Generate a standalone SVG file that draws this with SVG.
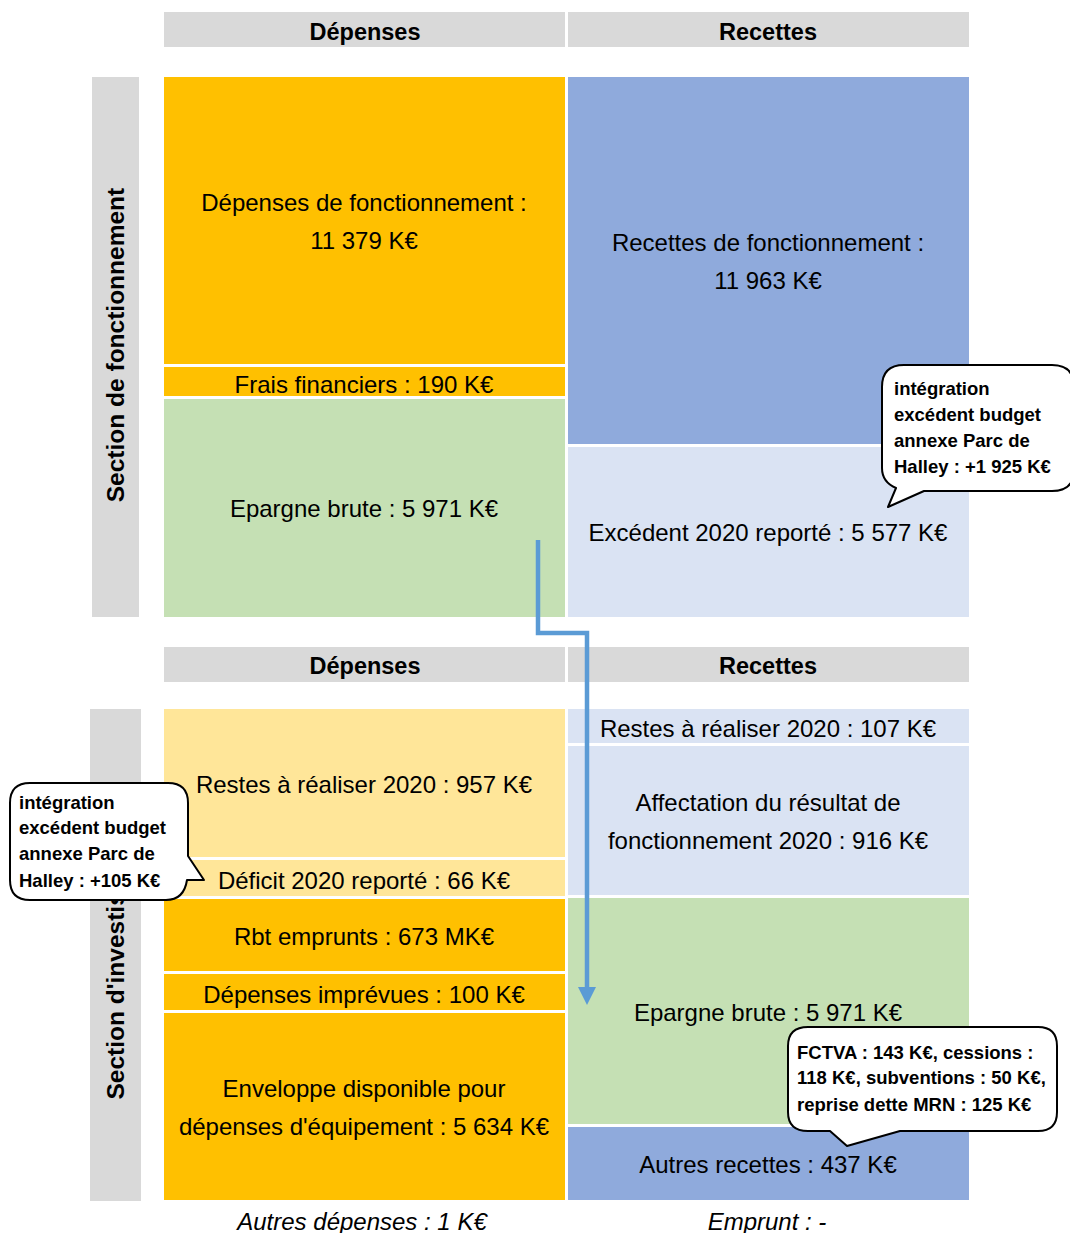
<svg xmlns="http://www.w3.org/2000/svg" width="1070" height="1233" viewBox="0 0 1070 1233">
<defs>
<style>
.t{font-family:"Liberation Sans",Arial,sans-serif;font-size:24px;fill:#000;text-anchor:middle}
.h{font-family:"Liberation Sans",Arial,sans-serif;font-size:23.5px;font-weight:bold;fill:#000;text-anchor:middle}
.s{font-family:"Liberation Sans",Arial,sans-serif;font-size:24.5px;font-weight:bold;fill:#000;text-anchor:middle}
.f{font-family:"Liberation Sans",Arial,sans-serif;font-size:24px;font-style:italic;fill:#000;text-anchor:middle}
.c{font-family:"Liberation Sans",Arial,sans-serif;font-size:18.5px;font-weight:bold;fill:#000}
.gray{fill:#D9D9D9}
.yel{fill:#FFC000}
.lyel{fill:#FFE699}
.grn{fill:#C5E0B4}
.blu{fill:#8FAADC}
.lblu{fill:#DAE3F3}
.call{fill:#fff;stroke:#000;stroke-width:2;stroke-linejoin:round}
</style>
<marker id="ah" markerWidth="4" markerHeight="4" refX="2" refY="2" orient="auto" markerUnits="strokeWidth" viewBox="0 0 4 4">
<path d="M0,0 L4,2 L0,4 z" fill="#5B9BD5"/>
</marker>
</defs>

<g id="headers-top">
<rect class="gray" x="164" y="12" width="401" height="35"/>
<text class="h" x="365" y="40">Dépenses</text>
<rect class="gray" x="568" y="12" width="401" height="35"/>
<text class="h" x="768" y="40">Recettes</text>
</g>

<g id="side-fonctionnement">
<rect class="gray" x="92" y="77" width="47" height="540"/>
<text class="s" transform="translate(124,345) rotate(-90)">Section de fonctionnement</text>
</g>

<g id="dep-fonct">
<rect class="yel" x="164" y="77" width="401" height="287"/>
<text class="t" x="364" y="211">Dépenses de fonctionnement :</text>
<text class="t" x="364" y="249">11 379 K€</text>
</g>
<g id="frais-fin">
<rect class="yel" x="164" y="367" width="401" height="29"/>
<text class="t" x="364" y="393">Frais financiers : 190 K€</text>
</g>
<g id="epargne-top">
<rect class="grn" x="164" y="399" width="401" height="218"/>
<text class="t" x="364" y="517">Epargne brute : 5 971 K€</text>
</g>
<g id="rec-fonct">
<rect class="blu" x="568" y="77" width="401" height="367"/>
<text class="t" x="768" y="251">Recettes de fonctionnement :</text>
<text class="t" x="768" y="289">11 963 K€</text>
</g>
<g id="excedent">
<rect class="lblu" x="568" y="447" width="401" height="170"/>
<text class="t" x="768" y="541">Excédent 2020 reporté : 5 577 K€</text>
</g>

<g id="headers-bottom">
<rect class="gray" x="164" y="647" width="401" height="35"/>
<text class="h" x="365" y="674">Dépenses</text>
<rect class="gray" x="568" y="647" width="401" height="35"/>
<text class="h" x="768" y="674">Recettes</text>
</g>

<g id="side-invest">
<rect class="gray" x="90" y="709" width="51" height="492"/>
<text class="s" transform="translate(124,953) rotate(-90)">Section d'investissement</text>
</g>

<g id="rar-dep">
<rect class="lyel" x="164" y="709" width="401" height="148"/>
<text class="t" x="364" y="793">Restes à réaliser 2020 : 957 K€</text>
</g>
<g id="deficit">
<rect class="lyel" x="164" y="860" width="401" height="36"/>
<text class="t" x="364" y="889">Déficit 2020 reporté : 66 K€</text>
</g>
<g id="rbt">
<rect class="yel" x="164" y="899" width="401" height="72"/>
<text class="t" x="364" y="945">Rbt emprunts : 673 MK€</text>
</g>
<g id="imprevues">
<rect class="yel" x="164" y="974" width="401" height="36"/>
<text class="t" x="364" y="1003">Dépenses imprévues : 100 K€</text>
</g>
<g id="enveloppe">
<rect class="yel" x="164" y="1013" width="401" height="187"/>
<text class="t" x="364" y="1097">Enveloppe disponible pour</text>
<text class="t" x="364" y="1135">dépenses d'équipement : 5 634 K€</text>
</g>

<g id="rar-rec">
<rect class="lblu" x="568" y="709" width="401" height="34"/>
<text class="t" x="768" y="737">Restes à réaliser 2020 : 107 K€</text>
</g>
<g id="affectation">
<rect class="lblu" x="568" y="746" width="401" height="149"/>
<text class="t" x="768" y="811">Affectation du résultat de</text>
<text class="t" x="768" y="849">fonctionnement 2020 : 916 K€</text>
</g>
<g id="epargne-bottom">
<rect class="grn" x="568" y="898" width="401" height="226"/>
<text class="t" x="768" y="1021">Epargne brute : 5 971 K€</text>
</g>
<g id="autres-rec">
<rect class="blu" x="568" y="1127" width="401" height="73"/>
<text class="t" x="768" y="1173">Autres recettes : 437 K€</text>
</g>

<g id="footer">
<text class="f" x="362" y="1230">Autres dépenses : 1 K€</text>
<text class="f" x="767" y="1230">Emprunt : -</text>
</g>

<g id="connectors">
<path d="M538,540 V633 H587 V996" fill="none" stroke="#5B9BD5" stroke-width="4.5" marker-end="url(#ah)"/>
</g>

<g id="callout-top">
<path class="call" d="M904,365 H1052 Q1074,365 1074,387 V470 Q1074,491 1052,491 H924 L888,507 L896,488 Q882,482 882,468 V387 Q882,365 904,365 Z"/>
<text class="c" x="894" y="395">intégration</text>
<text class="c" x="894" y="421">excédent budget</text>
<text class="c" x="894" y="447">annexe Parc de</text>
<text class="c" x="894" y="473">Halley : +1 925 K€</text>
</g>

<g id="callout-left">
<path class="call" d="M30,783 H168 Q188,783 188,803 V856 L204,880 L187,880 Q184,900 166,900 H30 Q10,900 10,880 V803 Q10,783 30,783 Z"/>
<text class="c" x="19" y="809">intégration</text>
<text class="c" x="19" y="834">excédent budget</text>
<text class="c" x="19" y="860">annexe Parc de</text>
<text class="c" x="19" y="887">Halley : +105 K€</text>
</g>

<g id="callout-bottom">
<path class="call" d="M808,1027 H1038 Q1057,1027 1057,1046 V1112 Q1057,1131 1038,1131 H900 L847,1146 L830,1131 H808 Q788,1131 788,1112 V1046 Q788,1027 808,1027 Z"/>
<text class="c" x="797" y="1059">FCTVA : 143 K€, cessions :</text>
<text class="c" x="797" y="1084">118 K€, subventions : 50 K€,</text>
<text class="c" x="797" y="1111">reprise dette MRN : 125 K€</text>
</g>
</svg>
